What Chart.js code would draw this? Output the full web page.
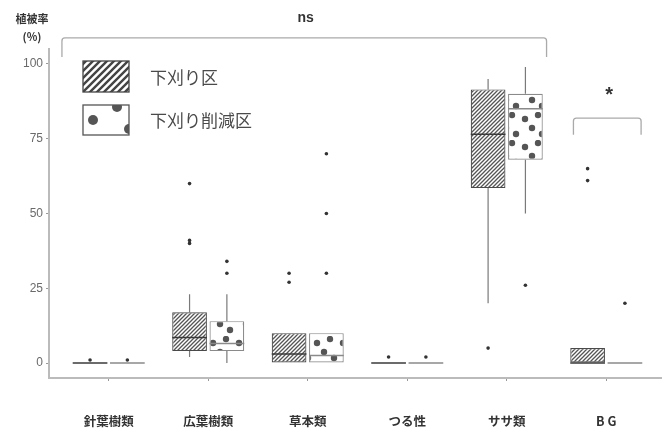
<!DOCTYPE html>
<html>
<head>
<meta charset="utf-8">
<script src="https://cdn.jsdelivr.net/npm/chart.js@4/dist/chart.umd.min.js"></script>
<style>
  html, body { margin: 0; padding: 0; background: #fff; }
</style>
</head>
<body>
<canvas id="myChart" width="665" height="428"></canvas>
<script>
const categories = ["針葉樹類", "広葉樹類", "草本類", "つる性", "ササ類", "B G"];
const seriesNames = ["下刈り区", "下刈り削減区"];

// each row: [whisker low, q1, median, q3, whisker high]
const boxCut = [
  [0, 0, 0, 0, 0],
  [2, 4, 8.5, 17, 23],
  [0, 0, 3, 10, 10],
  [0, 0, 0, 0, 0],
  [20, 58.5, 76.5, 91.5, 95],
  [0, 0, 0, 5, 5],
];
const boxReduced = [
  [0, 0, 0, 0, 0],
  [0, 4, 6.5, 14, 23],
  [0, 0, 2.5, 10, 10],
  [0, 0, 0, 0, 0],
  [50, 68, 85, 90, 99],
  [0, 0, 0, 0, 0],
];
const outliersCut = [[1], [60, 41, 40], [30, 27], [2], [5], [65, 61]];
const outliersReduced = [[1], [34, 30], [70, 50, 30], [2], [26], [20]];
const yTicks = [0, 25, 50, 75, 100];

// significance marks, in axis units
const brackets = [
  { from: 0.53, to: 5.4, top: 108.7, end: 102.3, text: "ns", tx: 2.98, ty: 115.4, size: 14 },
  { from: 5.67, to: 6.35, top: 81.9, end: 76.3, text: "*", tx: 6.03, ty: 89.6, size: 20 },
];

const CAT_PCT = 0.75;
const dodge = CAT_PCT / 4; // centre of each box inside its group

Chart.defaults.font.family = '"Liberation Sans", "Noto Sans CJK JP", sans-serif';

function hatch(gap, color, lw) {
  const c = document.createElement("canvas");
  c.width = gap; c.height = gap;
  const g = c.getContext("2d");
  g.fillStyle = "#fff";
  g.fillRect(0, 0, gap, gap);
  g.strokeStyle = color;
  g.lineWidth = lw;
  g.beginPath();
  g.moveTo(-1, gap + 1); g.lineTo(gap + 1, -1);
  g.moveTo(-1, 1); g.lineTo(1, -1);
  g.moveTo(gap - 1, gap + 1); g.lineTo(gap + 1, gap - 1);
  g.stroke();
  return g.createPattern(c, "repeat");
}

function dots(w, h, spots, r, color) {
  const c = document.createElement("canvas");
  c.width = w; c.height = h;
  const g = c.getContext("2d");
  g.fillStyle = "#fff";
  g.fillRect(0, 0, w, h);
  g.fillStyle = color;
  spots.forEach(([x, y]) => {
    g.beginPath();
    g.arc(x, y, r, 0, Math.PI * 2);
    g.fill();
  });
  return g.createPattern(c, "repeat");
}

const hatchFill = hatch(4, "#555", 1.3);
const dotFill = dots(26, 28, [[5, 7], [18, 3], [12, 16], [22, 22]], 3.2, "#555");

const boxSets = [boxCut, boxReduced];
const boxBorders = ["#4a4a4a", "#8a8a8a"];
const medianColors = ["#3a3a3a", "#8a8a8a"];

const boxDetails = {
  id: "boxDetails",
  beforeDatasetsDraw(chart) {
    const { ctx, scales: { y } } = chart;
    ctx.save();
    ctx.strokeStyle = "#7a7a7a";
    ctx.lineWidth = 1.2;
    boxSets.forEach((rows, di) => {
      chart.getDatasetMeta(di).data.forEach((bar, i) => {
        const [lo, q1, , q3, hi] = rows[i];
        ctx.beginPath();
        if (hi > q3) { ctx.moveTo(bar.x, y.getPixelForValue(q3)); ctx.lineTo(bar.x, y.getPixelForValue(hi)); }
        if (lo < q1) { ctx.moveTo(bar.x, y.getPixelForValue(q1)); ctx.lineTo(bar.x, y.getPixelForValue(lo)); }
        ctx.stroke();
      });
    });
    ctx.restore();
  },
  afterDatasetsDraw(chart) {
    const { ctx, scales: { x, y } } = chart;
    ctx.save();
    boxSets.forEach((rows, di) => {
      ctx.strokeStyle = medianColors[di];
      ctx.lineWidth = 1.5;
      chart.getDatasetMeta(di).data.forEach((bar, i) => {
        const py = y.getPixelForValue(rows[i][2]);
        ctx.beginPath();
        ctx.moveTo(bar.x - bar.width / 2, py);
        ctx.lineTo(bar.x + bar.width / 2, py);
        ctx.stroke();
      });
    });

    // brackets and significance labels
    ctx.strokeStyle = "#aaa";
    ctx.lineWidth = 1.3;
    ctx.fillStyle = "#333";
    ctx.textAlign = "center";
    ctx.textBaseline = "middle";
    brackets.forEach(b => {
      const x1 = x.getPixelForValue(b.from), x2 = x.getPixelForValue(b.to);
      const yt = y.getPixelForValue(b.top), ye = y.getPixelForValue(b.end);
      ctx.beginPath();
      ctx.moveTo(x1, ye);
      ctx.arcTo(x1, yt, x2, yt, 3);
      ctx.arcTo(x2, yt, x2, ye, 3);
      ctx.lineTo(x2, ye);
      ctx.stroke();
      ctx.font = `bold ${b.size}px "Liberation Sans", sans-serif`;
      ctx.fillText(b.text, x.getPixelForValue(b.tx), y.getPixelForValue(b.ty));
    });

    // axis title
    ctx.font = 'bold 11px "Noto Sans CJK JP", sans-serif';
    ctx.fillText("植被率", 32, 19);
    ctx.fillText("(%)", 32, 37);

    // legend
    const lx = 83, lw = 46;
    const rows = [{ top: 61, h: 31 }, { top: 105, h: 30 }];
    ctx.fillStyle = hatch(7, "#444", 2.4);
    ctx.fillRect(lx, rows[0].top, lw, rows[0].h);
    ctx.strokeStyle = "#444";
    ctx.lineWidth = 1.3;
    ctx.strokeRect(lx, rows[0].top, lw, rows[0].h);

    ctx.save();
    ctx.beginPath();
    ctx.rect(lx, rows[1].top, lw, rows[1].h);
    ctx.fillStyle = "#fff";
    ctx.fill();
    ctx.clip();
    ctx.fillStyle = "#555";
    [[93, 120], [117, 107], [129, 129]].forEach(([px, py]) => {
      ctx.beginPath();
      ctx.arc(px, py, 5, 0, Math.PI * 2);
      ctx.fill();
    });
    ctx.restore();
    ctx.strokeStyle = "#555";
    ctx.lineWidth = 1.3;
    ctx.strokeRect(lx, rows[1].top, lw, rows[1].h);

    ctx.fillStyle = "#4a4a4a";
    ctx.textAlign = "left";
    ctx.font = '17px "Noto Sans CJK JP", sans-serif';
    seriesNames.forEach((name, i) => {
      ctx.fillText(name, 150, rows[i].top + rows[i].h / 2 + 1);
    });
    ctx.restore();
  },
};

const toPoints = (sets, shift) =>
  sets.flatMap((vals, i) => vals.map(v => ({ x: i + 1 + shift, y: v })));

new Chart("myChart", {
  type: "bar",
  data: {
    datasets: [
      {
        label: seriesNames[0],
        data: boxCut.map((b, i) => ({ x: i + 1, y: [b[1], b[3]] })),
        backgroundColor: hatchFill,
        borderColor: boxBorders[0],
        borderWidth: 1.2,
        borderSkipped: false,
        categoryPercentage: CAT_PCT,
        barPercentage: 0.93,
      },
      {
        label: seriesNames[1],
        data: boxReduced.map((b, i) => ({ x: i + 1, y: [b[1], b[3]] })),
        backgroundColor: dotFill,
        borderColor: boxBorders[1],
        borderWidth: 1.2,
        borderSkipped: false,
        categoryPercentage: CAT_PCT,
        barPercentage: 0.93,
      },
      {
        type: "scatter",
        data: toPoints(outliersCut, -dodge),
        pointRadius: 1.8,
        pointBackgroundColor: "#333",
        pointBorderWidth: 0,
      },
      {
        type: "scatter",
        data: toPoints(outliersReduced, dodge),
        pointRadius: 1.8,
        pointBackgroundColor: "#333",
        pointBorderWidth: 0,
      },
    ],
  },
  options: {
    responsive: false,
    animation: false,
    layout: { padding: { top: 49, left: 0, right: 0, bottom: 0 } },
    plugins: { legend: { display: false }, tooltip: { enabled: false } },
    scales: {
      x: {
        type: "linear",
        offset: false,
        min: 0.4,
        max: 6.55,
        afterBuildTicks: s => { s.ticks = categories.map((_, i) => ({ value: i + 1 })); },
        afterFit: s => { s.height = 50; },
        grid: { offset: false, drawOnChartArea: false, color: "#999", tickLength: 3 },
        border: { color: "#bbb", width: 2 },
        ticks: {
          padding: 33,
          color: "#333",
          font: { size: 12.5, weight: "bold", family: '"Noto Sans CJK JP", sans-serif' },
          callback: v => categories[v - 1],
        },
      },
      y: {
        min: -5,
        max: 105,
        afterBuildTicks: s => { s.ticks = yTicks.map(v => ({ value: v })); },
        afterFit: s => { s.width = 49; },
        grid: { drawOnChartArea: false, color: "#999", tickLength: 3 },
        border: { color: "#bbb", width: 2 },
        ticks: { padding: 3, color: "#6a6a6a", font: { size: 12 } },
      },
    },
  },
  plugins: [boxDetails],
});
</script>
</body>
</html>
